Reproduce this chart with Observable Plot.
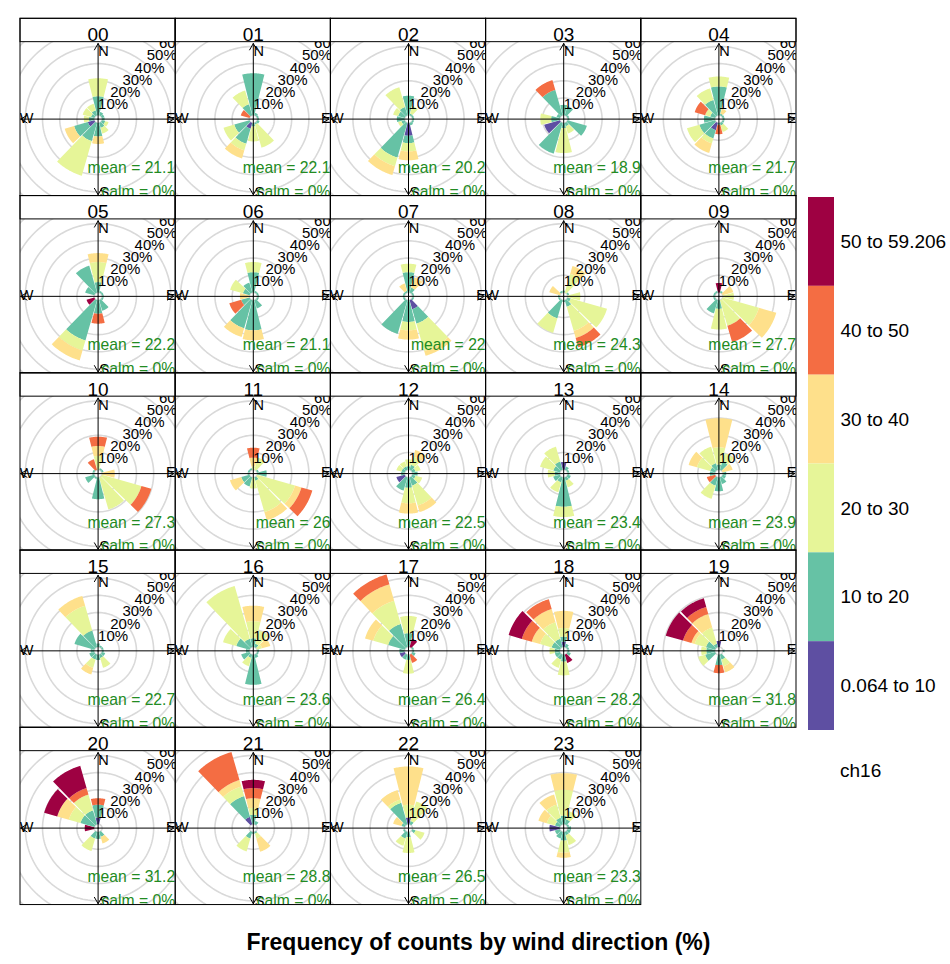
<!DOCTYPE html>
<html><head><meta charset="utf-8">
<script src="https://cdn.jsdelivr.net/npm/d3@7"></script>
<script src="https://cdn.jsdelivr.net/npm/@observablehq/plot@0.6"></script>
<style>
body{margin:0;background:#fff;font-family:"Liberation Sans",Arial,sans-serif;}
#wrap{position:relative;width:950px;height:964px;overflow:hidden;}
#chart{position:absolute;left:0;top:0;}
#legend{position:absolute;left:808px;top:197px;}
#legtitle{position:absolute;left:840px;top:759px;font-size:19px;line-height:24px;}
#title{position:absolute;left:0;width:957px;top:928px;text-align:center;font-weight:bold;font-size:23px;line-height:28px;}
</style></head><body>
<div id="wrap"><div id="chart"></div><div id="legend"></div><div id="legtitle">ch16</div><div id="title">Frequency of counts by wind direction (%)</div></div>
<script>
const hours = ["00","01","02","03","04","05","06","07","08","09","10","11","12","13","14","15","16","17","18","19","20","21","22","23"];
const means = [21.1,22.1,20.2,18.9,21.7,22.2,21.1,22,24.3,27.7,27.3,26,22.5,23.4,23.9,22.7,23.6,26.4,28.2,31.8,31.2,28.8,26.5,23.3];
const calmText = "0%";
const bins = ["0.064 to 10","10 to 20","20 to 30","30 to 40","40 to 50","50 to 59.206"];
const binColors = ["#5E4FA2","#66C2A5","#E6F598","#FEE08B","#F46D43","#9E0142"];
const directions = [0,30,60,90,120,150,180,210,240,270,300,330];
const gridValues = [10,20,30,40,50,60];

// % frequency per direction (0,30,...,330), each listing the speed bins from lowest upward
const f00 = [[0,11,10.5],[0,2],[0,1.5],[0,1.5],[0,2,2],[0,3,3.5],[0,7.8,0,4.4],[0,11,21],[3.9,8.3,0,5.7],[0,3,3],[0,2,5],[0,3,4]];
const f01 = [[0,24.4],[0,1.5],[0,1],[0,1],[0,1.5],[0,1,14],[0,2,8.7],[3.5,9.1,4,4.9],[0,9.2,6.5],[0,0],[0,0,0,0,5.3],[0,6.7,8.3]];
const f02 = [[0,11.3],[0,1,4.6],[0,1],[0,1],[0,1],[0,1.5],[7.4,4.3,4.8,5.2],[0,21,5.2,5.4],[0,2,2],[0,4.5],[0,4,3],[0,5,12]];
const f03 = [[0,6],[0,5.5],[0,1],[0,1],[0,11.7],[0,2,4.4],[0,3,14.5],[0,18.6],[9.5],[0,5,6.3],[0,2],[0,15.4,0,0,5.9]];
const f04 = [[0,16.7,5.8],[0,1,0,3],[0,1],[0,1],[0,1],[0,1.5,4],[0,1,0,0,5.5],[4.4,5,3,5.8],[0,9.5,7.5],[0,6.4],[0,3,3,0,6.3],[0,9.3,7]];
const f05 = [[0,6,11.7,5.2],[0,1],[0,1],[0,1],[0,1],[0,6.4],[0,7.8,0,0,5.8],[0,24.4,6,6.1],[0,0,0,0,0,4.7],[0,0],[0,5.5],[0,16.3]];
const f06 = [[0,11.8,5.9],[0,1],[0,1],[0,1],[0,1],[0,5],[0,17.5,0,5.8],[0,17,0,5.3],[0,5,0,0,7.2],[0,0,0,5.5],[0,4,7.7],[0,6]];
const f07 = [[0,11.8,4.9],[0,3,0,6.3],[0,1],[0,1],[0,1],[5.5,8.7,16.6,2.9],[0,12.6,4.9,5.4],[0,20.4],[0,1],[0,1],[0,1],[0,1,0,4.5]];
const f08 = [[0,1],[0,0,11.3,4.8],[0,1],[0,0,7.4],[0,2,21.9],[0,4,14.6,4.3,5.6],[0,1],[0,11,8.8],[0,1],[0,1],[0,0,0,6.4],[0,1]];
const f09 = [[0,0,0,0,0,5.5],[0,1],[0,0,0,6.4],[0,0,6.4],[0,0,21.9,10.5],[0,0,15.5,0,9.9],[0,5,12],[0,8],[0,1],[0,1],[0,1],[0,1]];
const f10 = [[0,0,8,5.8,5.4],[0,1],[0,1],[0,0,0,7.4],[0,0,23.9,0,6],[0,0,19.4],[0,12.6],[0,1],[0,5.5],[0,1],[0,1],[0,0,0,0,6.4]];
const f11 = [[0,0,2,5,5.8],[0,0,7.4],[0,1],[0,5.5],[0,0,22.9,3.9,6.6],[0,2,19,5],[0,0,6.4],[0,5.5],[0,5,0,6.8],[0,1],[0,1],[0,1]];
const f12 = [[0,2,4],[0,3,5,4],[0,2,3],[0,3],[0,2,4],[0,5,12,4],[0,6,9,6],[0,8],[5],[0,2],[0,2,3],[0,2,3]];
const f13 = [[4.5],[0,2],[0,1],[0,1],[0,2],[0,2,4],[0,17,6],[0,3,6],[0,4],[0,3,4],[0,4,8],[0,5,9]];
const f14 = [[0,3,10,17],[0,5,5],[0,0,0,6],[0,2],[0,2],[0,4],[0,8],[0,5,8],[0,0,0,0,5],[0,3],[0,3,8,5],[0,4,10]];
const f15 = [[0,2],[0,1],[0,1],[0,1],[0,2],[0,2,6],[0,3],[0,3,5,4],[0,3],[0,2],[0,12],[0,10,15,6]];
const f16 = [[0,5,10,9],[0,2,8],[0,0,3,5],[0,1],[0,1],[0,2],[0,17.5],[0,2,5],[0,5],[0,2],[0,8,8],[0,5,32]];
const f17 = [[0,8,10],[0,0,0,0,0,5],[0,1],[0,1],[0,2],[0,0,0,0,5],[0,3,8],[0,3],[3],[0,3],[0,10,9,5],[0,14,14,10,6]];
const f18 = [[3,3,5,10],[0,2],[0,1],[0,1],[0,2],[0,0,0,0,0,5],[0,4,8],[0,3,5],[0,3],[0,3,3],[0,5,7,5,6,8],[0,5,10,8,6]];
const f19 = [[3.5],[0,0],[0,0],[0,1],[0,0],[0,3,4,3.7],[0,6,0,0,4.7],[0,0],[0,6,4.2],[0,5,3],[0,5.5,6.8,2,5.1,10.4],[0,2,9.8,8.2,4.3,5.2]];
const f20 = [[3.9,7.4,0,0,3.8],[0,0],[0,0],[0,0],[0,0],[0,3,0,4],[0,4],[0,4,7.6],[0,0],[0,0,0,0,0,5.5],[0,8.4,7,7,0,7.9],[0,8.4,9.6,0,3.9,13.5]];
const f21 = [[0,5.5,4,5.6,5.9,4.8],[0,2],[0,0],[0,0],[0,0],[0,1,3,8],[0,1],[0,4,7.8],[0,0],[0,0],[0,0],[4.5,12.6,5.8,3.9,17]];
const f22 = [[3.9,0,7.4,22.3],[0,2,11.8],[0,0],[0,0],[0,2,5.4],[0,0],[0,3,9.2],[0,4,4.4],[0,1],[0,0],[0,2,0,5],[0,13,2,5.7]];
const f23 = [[0,5,15,9.7],[0,3,5],[0,1],[0,2],[0,2],[0,2,6],[0,5,7,3],[0,4],[0,3],[6],[0,3,5,5],[0,4,8,6]];
const freqByHour = [f00,f01,f02,f03,f04,f05,f06,f07,f08,f09,f10,f11,f12,f13,f14,f15,f16,f17,f18,f19,f20,f21,f22,f23];

// ---- geometry helpers (layout of the openair-style rose) ----
const OFF = 2.3;          // central hole (offset) in % units
const HALF = 14;          // half-width of a sector in degrees
const xDom = [-45.1, 45.1];
const yDom = [-44.8, 58.4];
const panelTop = 44.8;
const AX = 44;
const rad = a => a * Math.PI / 180;

const panels = hours.map((h, i) => ({hour: h, col: i % 5, row: Math.floor(i / 5), mean: means[i], calm: calmText}));

const sectorPts = [];
panels.forEach((p, i) => {
  freqByHour[i].forEach((vals, di) => {
    let cum = 0;
    const d = directions[di];
    vals.forEach((v, b) => {
      if (!v) return;
      const r0 = OFF + cum, r1 = OFF + cum + v;
      cum += v;
      const id = p.hour + "-" + d + "-" + b;
      const pts = [];
      for (let a = d - HALF; a <= d + HALF + 1e-9; a += 1) pts.push([a, r1]);
      for (let a = d + HALF; a >= d - HALF - 1e-9; a -= 1) pts.push([a, r0]);
      for (const [a, r] of pts) sectorPts.push({id, bin: bins[b], col: p.col, row: p.row, x: r * Math.sin(rad(a)), y: r * Math.cos(rad(a))});
    });
  });
});

const circlePts = [];
panels.forEach(p => {
  [0, ...gridValues].forEach(g => {
    for (let a = 0; a <= 360; a += 2) {
      const r = g + OFF;
      circlePts.push({id: p.hour + "-" + g, col: p.col, row: p.row, x: r * Math.sin(rad(a)), y: r * Math.cos(rad(a))});
    }
  });
});

const gridLabels = [];
panels.forEach(p => gridValues.forEach(g => {
  const r = g + OFF;
  gridLabels.push({col: p.col, row: p.row, x: r * Math.SQRT1_2, y: r * Math.SQRT1_2, text: g + "%"});
}));

const arrows = [];
const compass = [];
panels.forEach(p => {
  arrows.push({col: p.col, row: p.row, x2: 0, y2: AX}, {col: p.col, row: p.row, x2: 0, y2: -AX},
              {col: p.col, row: p.row, x2: AX, y2: 0}, {col: p.col, row: p.row, x2: -AX - 1, y2: 0});
  compass.push({col: p.col, row: p.row, x: 3.2, y: 39.6, t: "N"}, {col: p.col, row: p.row, x: 3.6, y: -42.6, t: "S"},
               {col: p.col, row: p.row, x: 42.2, y: 0.6, t: "E"}, {col: p.col, row: p.row, x: -41.6, y: 0.4, t: "W"});
});

const font = "'Liberation Sans', Arial, sans-serif";

const chart = Plot.plot({
  width: 800, height: 910,
  marginTop: 18.3, marginBottom: 5.45, marginLeft: 20, marginRight: 4,
  x: {domain: xDom, axis: null},
  y: {domain: yDom, axis: null},
  fx: {domain: [0,1,2,3,4], axis: null, padding: 0, round: false},
  fy: {domain: [0,1,2,3,4], axis: null, padding: 0, round: false},
  color: {domain: bins, range: binColors},
  style: {fontFamily: font, background: "white", overflow: "visible"},
  marks: [
    Plot.line(circlePts, {x: "x", y: "y", z: "id", fx: "col", fy: "row", stroke: "#d9d9d9", strokeWidth: 1.6, clip: true}),
    Plot.line(sectorPts, {x: "x", y: "y", z: "id", fx: "col", fy: "row", fill: "bin", stroke: "none", curve: "linear-closed", clip: true}),
    Plot.arrow(arrows, {x1: 0, y1: 0, x2: "x2", y2: "y2", fx: "col", fy: "row", stroke: "black", strokeWidth: 1, headLength: 11, headAngle: 60, clip: true}),
    Plot.text(gridLabels, {x: "x", y: "y", text: "text", fx: "col", fy: "row", fontSize: 15, fill: "black", clip: true}),
    Plot.text(compass, {x: "x", y: "y", text: "t", fx: "col", fy: "row", fontSize: 14.5, fill: "black", clip: true}),
    Plot.text(panels, {x: xDom[1] - 0.3, y: -28.5, text: d => "mean = " + d.mean, fx: "col", fy: "row", textAnchor: "end", fill: "#228B22", fontSize: 15.7, clip: true}),
    Plot.text(panels, {x: xDom[1] - 0.3, y: -42.4, text: d => "calm = " + d.calm, fx: "col", fy: "row", textAnchor: "end", fill: "#228B22", fontSize: 15.7, clip: true}),
    Plot.rect(panels, {x1: xDom[0], x2: xDom[1], y1: panelTop, y2: yDom[1], fx: "col", fy: "row", fill: "white", stroke: "black", strokeWidth: 1}),
    Plot.text(panels, {x: 0, y: 49, text: "hour", fx: "col", fy: "row", fontSize: 19, fill: "black"}),
    Plot.rect(panels, {x1: xDom[0], x2: xDom[1], y1: yDom[0], y2: yDom[1], fx: "col", fy: "row", fill: "none", stroke: "black", strokeWidth: 1})
  ]
});
document.getElementById("chart").append(chart);

const legendBins = bins.slice().reverse();
const legend = Plot.plot({
  width: 142, height: 533,
  margin: 0,
  x: {domain: [0, 142], axis: null},
  y: {domain: legendBins, axis: null, padding: 0, round: false},
  color: {domain: bins, range: binColors},
  style: {fontFamily: font, background: "transparent"},
  marks: [
    Plot.barX(legendBins, {x1: 0, x2: 26, y: d => d, fill: d => d}),
    Plot.text(legendBins, {x: 32, y: d => d, text: d => d, textAnchor: "start", fontSize: 19, fill: "black"})
  ]
});
document.getElementById("legend").append(legend);
</script>
</body></html>
